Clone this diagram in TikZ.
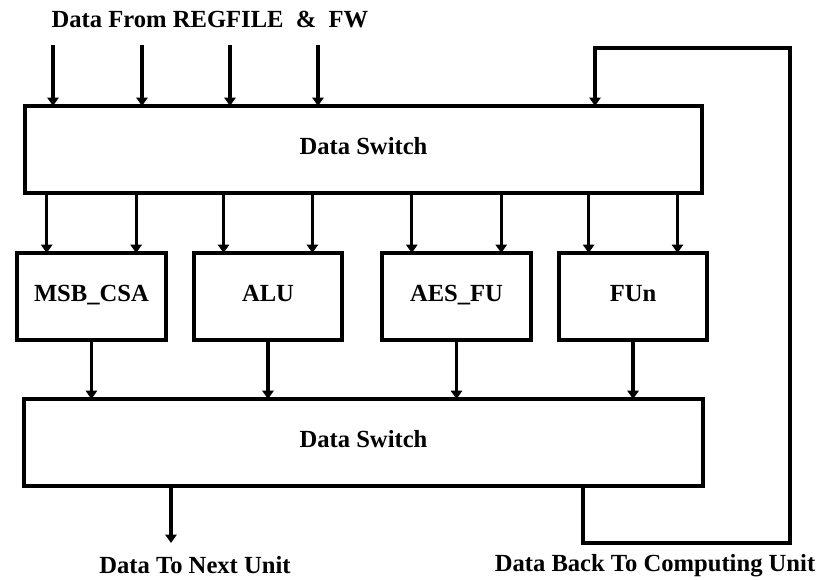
\documentclass[tikz,border=0pt]{standalone}
\usepackage{fontspec}
\setmainfont{Liberation Serif}
\usetikzlibrary{positioning, arrows.meta}

\begin{document}
\begin{tikzpicture}[x=0.025cm, y=-0.025cm,
	block/.style={draw=black,
		line width=2.8pt,
		outer sep=0pt,
		inner sep=0pt,
		text height=1.4ex,
		text depth=0pt,
		minimum height=2.175cm,
		font=\bfseries\fontsize{17.5}{21}\selectfont},
	flow/.style={line width=2.3pt,
		-{Triangle[length=6pt,width=8pt]}},
	caption/.style={font=\bfseries\fontsize{17.5}{21}\selectfont}]
	\useasboundingbox (0,0) rectangle (828,579);

	% Add the switches and units
	\node[block,
		  minimum width=16.925cm] (sw1) at (363.5,149.5) {Data Switch};
	\node[block,
		  minimum width=3.725cm,
		  below right=1.5cm and -0.2cm of sw1.south west] (mcsa) {MSB\_CSA};
	\node[block,
		  minimum width=3.7cm,
		  right=0.7cm of mcsa] (alu) {ALU};
	\node[block,
		  minimum width=3.725cm,
		  right=1cm of alu] (aes) {AES\_FU};
	\node[block,
		  minimum width=3.7cm,
		  right=0.7cm of aes] (fun) {FUn};
	\node[block,
		  minimum width=16.975cm,
		  below right=1.475cm and 0.175cm of mcsa.south west] (bot) {Data Switch};

	% Add the texts
	\node[caption] (title) at (210,20) {Data From REGFILE \ \& \ FW};
	\node[caption] (nextlbl) at (195,565) {Data To Next Unit};
	\node[caption] (backlbl) at (655,566) {Data Back To Computing Unit};

	% Add the connections
	\foreach \x [count=\i] in {53,142,230,318} {
		\coordinate (in\i) at (\x,45);
		\draw[flow] (in\i) -- (in\i |- sw1.north);
	}
	\foreach \b in {mcsa,alu,aes,fun} {
		\path (\b.north west) -- (\b.north east)
			coordinate[pos=0.2] (\b-l) coordinate[pos=0.8] (\b-r);
		\draw[flow] (\b-l |- sw1.south) -- (\b-l);
		\draw[flow] (\b-r |- sw1.south) -- (\b-r);
		\draw[flow] (\b.south) -- (\b.south |- bot.north);
	}
	\coordinate (out) at (171,543);
	\draw[flow] (out |- bot.south) -- (out);
	\coordinate (back) at (583,543);
	\coordinate (loop) at (790,48);
	\coordinate (ret) at (595,48);
	\draw[flow, line width=2.8pt] (back |- bot.south) -- (back) -| (loop) -- (ret) -- (ret |- sw1.north);
\end{tikzpicture}
\end{document}
